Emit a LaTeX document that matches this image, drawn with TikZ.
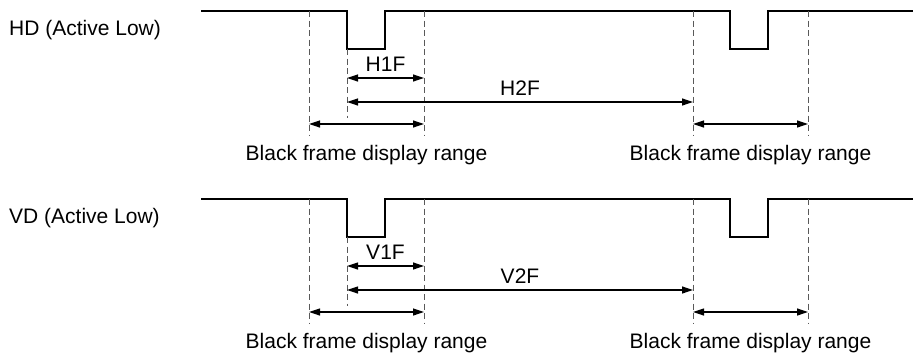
\documentclass[tikz,border=0pt]{standalone}
\usepackage{fontspec}
\setmainfont{Liberation Sans}
\usetikzlibrary{arrows.meta}

\begin{document}
\begin{tikzpicture}[x=1pt,y=-1pt,
    signal/.style={line width=2pt, line join=miter},
    guide/.style={line width=1pt, black!65, dash pattern=on 6pt off 3.5pt},
    span/.style={line width=1.2pt,
      {Triangle[length=11pt,width=7pt]}-{Triangle[length=11pt,width=7pt]}},
    lab/.style={font=\fontsize{21}{25}\selectfont, inner sep=0pt}
  ]
  \useasboundingbox (0,0) rectangle (913,356);

  % parameters
  \def\xa{309}  % left edge of black frame
  \def\xb{347}  % first pulse falls
  \def\xc{424}  % right edge of black frame
  \def\xd{693}  % next line starts
  \def\xe{808}  % end of next black frame
  \def\hi{11}   % high level
  \def\lo{49}   % low level

  \foreach \s/\d in {H/0,V/188} {
    \begin{scope}[yshift=-\d pt]
      % signal name
      \node[lab, anchor=west] (\s name) at (9,30) {\s D (Active Low)};

      % waveform with two low pulses
      \draw[signal] (201,\hi) -- (\xb,\hi) -- (\xb,\lo) -- (385,\lo) -- (385,\hi)
        -- (730,\hi) -- (730,\lo) -- (768,\lo) -- (768,\hi) -- (913,\hi);

      % dashed guides
      \foreach \x in {\xa,\xc,\xd,\xe}
        \draw[guide] (\x,\hi) -- (\x,135);
      \draw[guide] (\xb,\lo) -- (\xb,118);

      % pulse widths
      \coordinate (\s1l) at (\xb,78);
      \coordinate (\s1r) at (\xc,78);
      \draw[span] (\s1l) -- (\s1r) node[lab, midway, above=6pt] (\s1lab) {\s1F};
      \coordinate (\s2l) at (\xb,102);
      \coordinate (\s2r) at (\xd,102);
      \draw[span] (\s2l) -- (\s2r) node[lab, midway, above=6pt] (\s2lab) {\s2F};

      % black frame ranges
      \coordinate (\s bl) at (\xa,124);
      \coordinate (\s br) at (\xc,124);
      \draw[span] (\s bl) -- (\s br)
        node[lab, midway, below=21pt] (\s blab) {Black frame display range};
      \coordinate (\s cl) at (\xd,124);
      \coordinate (\s cr) at (\xe,124);
      \draw[span] (\s cl) -- (\s cr)
        node[lab, midway, below=21pt] (\s clab) {Black frame display range};
    \end{scope}
  }
\end{tikzpicture}
\end{document}
